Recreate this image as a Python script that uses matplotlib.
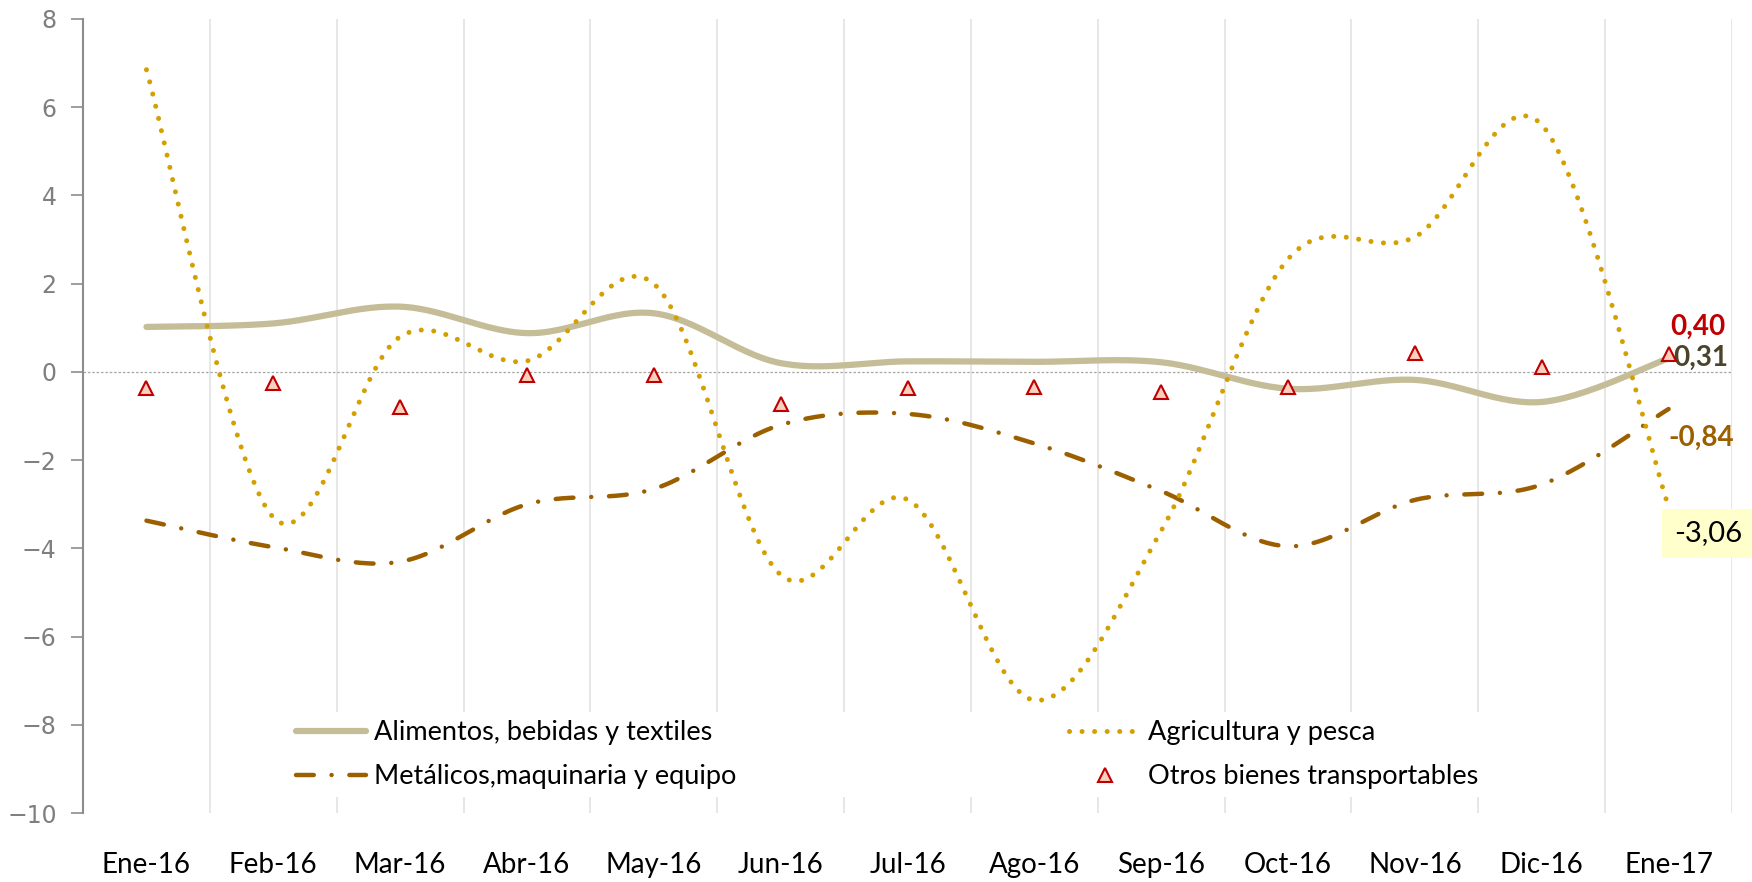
import numpy as np
import matplotlib
matplotlib.use('Agg')
import matplotlib.pyplot as plt

# Datos (variación %, lectura aproximada del gráfico)
meses = ['Ene-16', 'Feb-16', 'Mar-16', 'Abr-16', 'May-16', 'Jun-16', 'Jul-16',
         'Ago-16', 'Sep-16', 'Oct-16', 'Nov-16', 'Dic-16', 'Ene-17']
alimentos = [1.02, 1.10, 1.48, 0.88, 1.33, 0.20, 0.24, 0.23, 0.22, -0.38, -0.18, -0.68, 0.31]
agricultura = [6.85, -3.30, 0.80, 0.25, 2.00, -4.60, -2.89, -7.44, -3.60, 2.56, 3.06, 5.60, -3.06]
metalicos = [-3.37, -3.97, -4.30, -3.00, -2.65, -1.20, -0.95, -1.62, -2.70, -3.95, -2.90, -2.55, -0.84]
otros = [-0.36, -0.24, -0.80, -0.08, -0.07, -0.72, -0.36, -0.33, -0.45, -0.33, 0.43, 0.12, 0.40]

plt.rcParams['font.family'] = ['Lato', 'DejaVu Sans']


def suavizar(y, n=30):
    # curva suave tipo Excel (Bezier / Catmull-Rom)
    y = np.asarray(y, dtype=float)
    x = np.arange(len(y), dtype=float)
    p = np.column_stack([x, y])
    pts = [p[0]]
    for i in range(len(p) - 1):
        p0 = p[i - 1] if i > 0 else p[i]
        p3 = p[i + 2] if i + 2 < len(p) else p[i + 1]
        c1 = p[i] + (p[i + 1] - p0) / 6
        c2 = p[i + 1] - (p3 - p[i]) / 6
        t = np.linspace(0, 1, n)[1:, None]
        b = ((1 - t) ** 3) * p[i] + 3 * ((1 - t) ** 2) * t * c1 + 3 * (1 - t) * t ** 2 * c2 + t ** 3 * p[i + 1]
        pts.extend(b)
    pts = np.array(pts)
    return pts[:, 0], pts[:, 1]


fig = plt.figure(figsize=(17.52, 8.82), dpi=100)
ax = fig.add_axes([0.0474, 0.078, 0.9412, 0.9005])

c_alim = '#C4BD97'
c_agri = '#D4A000'
c_meta = '#9C5F00'

xs, ys = suavizar(alimentos)
l1, = ax.plot(xs, ys, color=c_alim, lw=4.5, solid_capstyle='round', label='Alimentos, bebidas y textiles', zorder=3)
xs, ys = suavizar(agricultura)
l2, = ax.plot(xs, ys, color=c_agri, lw=3.6, linestyle=(0, (0.01, 2.5)), dash_capstyle='round',
              label='Agricultura y pesca', zorder=4)
xs, ys = suavizar(metalicos)
l3, = ax.plot(xs, ys, color=c_meta, lw=3.2, linestyle=(0, (4, 4, 0.01, 4)), dash_capstyle='round',
              label='Metálicos,maquinaria y equipo', zorder=3)
l4, = ax.plot(range(len(otros)), otros, linestyle='none', marker='^', markersize=10,
              markerfacecolor='#F9D0C0', markeredgecolor='#C00000', markeredgewidth=1.5,
              label='Otros bienes transportables', zorder=5)

ax.set_xlim(-0.5, len(meses) - 0.5)
ax.set_ylim(-10, 8)
ax.set_yticks(range(-10, 9, 2))
ax.set_xticks(range(len(meses)))
ax.set_xticklabels(meses, fontsize=20)
ax.tick_params(axis='x', length=0, pad=28)
ax.tick_params(axis='y', length=9, width=1.2, color='#8C8C8C', labelcolor='#7F7F7F', pad=10)
for lab in ax.get_yticklabels():
    lab.set_fontfamily('DejaVu Sans')
    lab.set_fontsize(17)

for s in ['top', 'right', 'bottom']:
    ax.spines[s].set_visible(False)
ax.spines['left'].set_color('#8C8C8C')
ax.spines['left'].set_linewidth(1.5)

# rejilla vertical entre categorías
for b in np.arange(0.5, len(meses), 1.0):
    ax.axvline(b, color='#E3E3E3', lw=1.2, zorder=0)
ax.axhline(0, color='#A6A6A6', lw=0.9, linestyle=(0, (2, 1.5)), zorder=1)

# etiquetas del último dato
n = len(meses) - 1
ax.annotate('0,40', (n, otros[-1]), xytext=(1, 20), textcoords='offset points',
            color='#C00000', fontsize=20, fontweight='bold', va='center', ha='left',
            annotation_clip=False)
ax.annotate('0,31', (n, alimentos[-1]), xytext=(3, 0), textcoords='offset points',
            color='#4A452A', fontsize=20, fontweight='bold', va='center', ha='left',
            annotation_clip=False)
ax.annotate('-0,84', (n, metalicos[-1]), xytext=(0, -21), textcoords='offset points',
            color='#9C5F00', fontsize=20, fontweight='bold', va='center', ha='left',
            annotation_clip=False)
ax.annotate('-3,06', (n, agricultura[-1]), xytext=(4, -19), textcoords='offset points',
            color='black', fontsize=21, va='center', ha='left', annotation_clip=False,
            bbox=dict(boxstyle='square,pad=0.4', facecolor='#FFFFCC', edgecolor='none'))

# leyenda en dos columnas (orden por filas)
leg = ax.legend([l1, l3, l2, l4], [l1.get_label(), l3.get_label(), l2.get_label(), l4.get_label()],
                loc='lower left', ncol=2, mode='expand',
                bbox_to_anchor=(0.124, 0.02, 0.727, 0.1), fontsize=19.5,
                frameon=True, facecolor='white', edgecolor='none', framealpha=1,
                handlelength=2.6, handletextpad=0.3, labelspacing=0.7,
                borderpad=0.3, borderaxespad=0)
leg.get_frame().set_boxstyle('square', pad=0)
leg.set_zorder(6)

fig.savefig('out.png', dpi=100)
